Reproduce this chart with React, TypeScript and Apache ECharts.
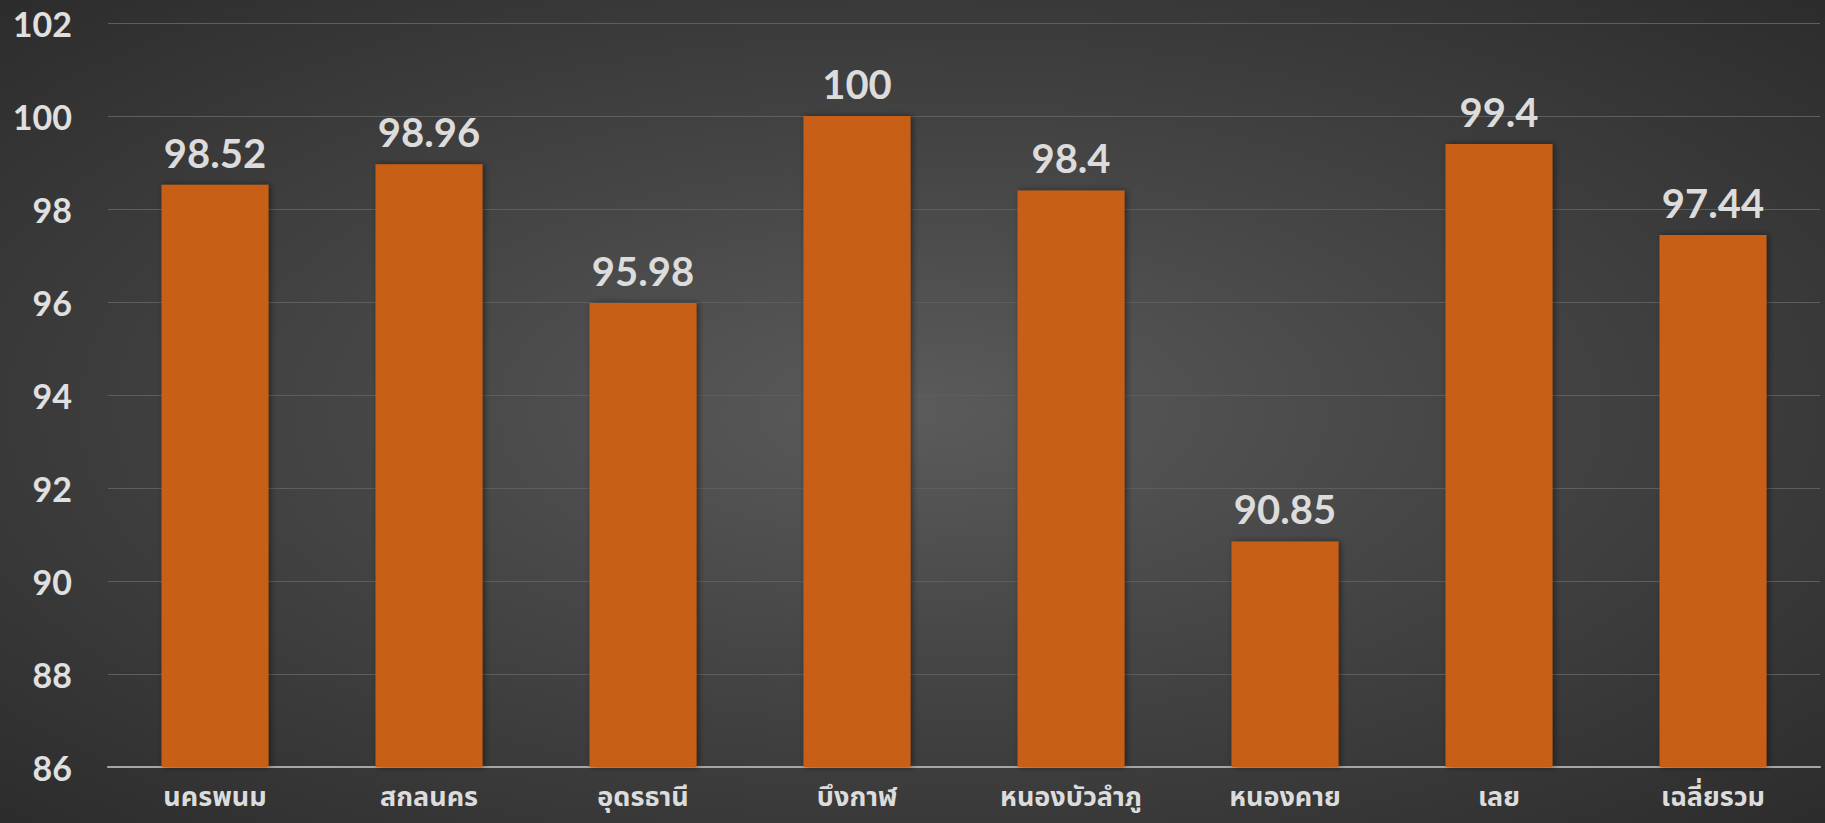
import React, { useEffect, useRef } from "react";
import * as echarts from "echarts";

const categories = ["นครพนม", "สกลนคร", "อุดรธานี", "บึงกาฬ", "หนองบัวลำภู", "หนองคาย", "เลย", "เฉลี่ยรวม"];
const values = [98.52, 98.96, 95.98, 100, 98.4, 90.85, 99.4, 97.44];
const yMin = 86;
const yMax = 102;
const yInterval = 2;

export default function App() {
  const ref = useRef<HTMLDivElement>(null);
  useEffect(() => {
    document.body.style.margin = "0";
    const chart = echarts.init(ref.current!, null, { renderer: "svg" });
    chart.setOption({
      animation: false,
      backgroundColor: "transparent",
      grid: { left: 108, right: 5, top: 23, bottom: 56, containLabel: false },
      xAxis: {
        type: "category",
        data: categories,
        axisLine: { lineStyle: { color: "#a6a6a6", width: 2 } },
        axisTick: { show: false },
        axisLabel: {
          color: "#dcdcdc",
          fontSize: 27,
          fontWeight: "bold",
          fontFamily: "'Noto Sans Thai', 'Noto Sans', sans-serif",
          margin: 17,
        },
      },
      yAxis: {
        type: "value",
        min: yMin,
        max: yMax,
        interval: yInterval,
        axisLine: { show: false },
        axisTick: { show: false },
        splitLine: { lineStyle: { color: "#5e5e5e", width: 1 } },
        axisLabel: {
          color: "#e0e0e0",
          fontSize: 34,
          fontWeight: "bold",
          fontFamily: "Lato, 'Open Sans', sans-serif",
          margin: 36,
        },
      },
      series: [
        {
          type: "bar",
          data: values,
          barWidth: "50%",
          itemStyle: {
            color: "#c85f12",
            shadowColor: "rgba(0,0,0,0.45)",
            shadowBlur: 6,
            shadowOffsetX: 2,
            shadowOffsetY: 0,
          },
          label: {
            show: true,
            position: "top",
            distance: 12,
            color: "#dcdcdc",
            fontSize: 40,
            fontWeight: "bold",
            fontFamily: "Lato, 'Open Sans', sans-serif",
          },
        },
      ],
    });
    return () => chart.dispose();
  }, []);
  return (
    <div
      ref={ref}
      style={{
        position: "absolute",
        left: 0,
        top: 0,
        width: 1825,
        height: 823,
        background: "radial-gradient(ellipse at 50% 50%, #5b5b5b 0%, #474747 40%, #2c2c2c 100%)",
      }}
    />
  );
}
